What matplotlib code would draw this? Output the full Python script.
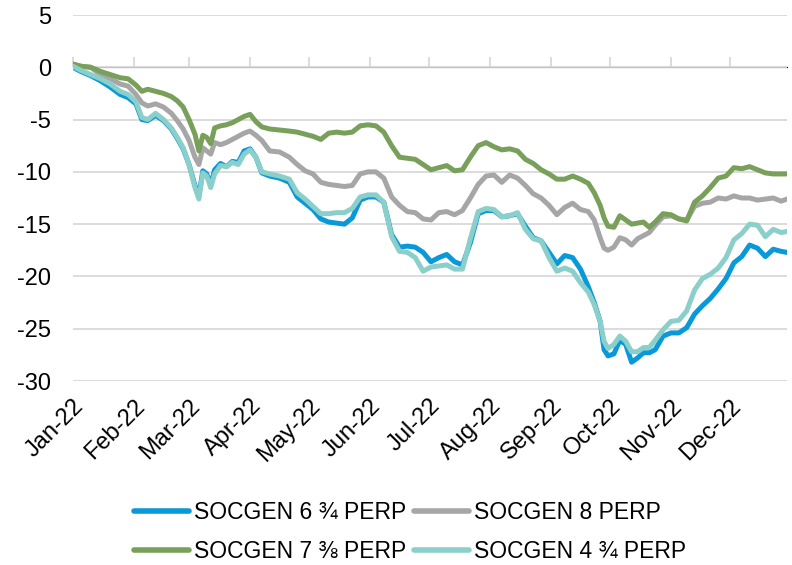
import matplotlib
matplotlib.use("Agg")
import matplotlib.pyplot as plt
import matplotlib.dates as mdates
import pandas as pd

plt.rcParams['font.family'] = ['Liberation Sans', 'DejaVu Sans']

dates = pd.to_datetime([
    "2022-01-01", "2022-01-05", "2022-01-10", "2022-01-15", "2022-01-20", "2022-01-25", "2022-01-29",
    "2022-02-02", "2022-02-05", "2022-02-08", "2022-02-12", "2022-02-16", "2022-02-20", "2022-02-23", "2022-02-26",
    "2022-03-01", "2022-03-04", "2022-03-06", "2022-03-08", "2022-03-10", "2022-03-12", "2022-03-14", "2022-03-17",
    "2022-03-20", "2022-03-23", "2022-03-26", "2022-03-29",
    "2022-04-01", "2022-04-04", "2022-04-07", "2022-04-11", "2022-04-16", "2022-04-21", "2022-04-25", "2022-04-29",
    "2022-05-03", "2022-05-07", "2022-05-11", "2022-05-15", "2022-05-19", "2022-05-23", "2022-05-27", "2022-05-31",
    "2022-06-04", "2022-06-08", "2022-06-12", "2022-06-16", "2022-06-20", "2022-06-24", "2022-06-28",
    "2022-07-02", "2022-07-06", "2022-07-10", "2022-07-14", "2022-07-18", "2022-07-22", "2022-07-26", "2022-07-30",
    "2022-08-03", "2022-08-07", "2022-08-11", "2022-08-15", "2022-08-19", "2022-08-23", "2022-08-27", "2022-08-31",
    "2022-09-04", "2022-09-08", "2022-09-12", "2022-09-16", "2022-09-20", "2022-09-23", "2022-09-26", "2022-09-28",
    "2022-09-30",
    "2022-10-03", "2022-10-06", "2022-10-09", "2022-10-12", "2022-10-15", "2022-10-18", "2022-10-21", "2022-10-24",
    "2022-10-28",
    "2022-11-01", "2022-11-05", "2022-11-09", "2022-11-13", "2022-11-17", "2022-11-21", "2022-11-25", "2022-11-29",
    "2022-12-03", "2022-12-07", "2022-12-11", "2022-12-15", "2022-12-19", "2022-12-23", "2022-12-27", "2022-12-30",
])

socgen_6_75 = [
    0.0, -0.4, -0.8, -1.3, -1.9, -2.6, -2.9, -3.5, -5.0, -5.1,
    -4.6, -5.1, -5.9, -6.8, -7.8, -9.3, -11.3, -12.3, -9.9, -10.2,
    -11.3, -9.8, -9.2, -9.5, -9.0, -9.1, -8.0, -7.8, -8.6, -10.1,
    -10.4, -10.6, -11.0, -12.4, -13.0, -13.6, -14.5, -14.8, -14.9, -15.0,
    -14.4, -12.7, -12.4, -12.4, -12.9, -16.0, -17.2, -17.1, -17.2, -17.7,
    -18.6, -18.2, -17.9, -18.6, -18.9, -16.8, -14.0, -13.7, -13.7, -14.3,
    -14.2, -14.0, -15.2, -16.3, -16.6, -17.7, -18.8, -18.0, -18.2, -19.3,
    -21.0, -22.5, -24.3, -27.0, -27.6, -27.4, -26.1, -26.5, -28.2, -27.8,
    -27.3, -27.3, -27.0, -25.7, -25.4, -25.4, -24.9, -23.6, -22.8, -22.1,
    -21.2, -20.2, -18.7, -18.1, -17.0, -17.3, -18.1, -17.4, -17.6, -17.7,
]

socgen_8 = [
    0.3, 0.1, 0.0, -0.7, -1.1, -1.6, -1.8, -2.6, -3.4, -3.7,
    -3.5, -3.8, -4.4, -5.1, -5.9, -7.0, -8.6, -9.3, -7.7, -8.0,
    -8.3, -7.2, -7.4, -7.2, -6.9, -6.6, -6.3, -6.1, -6.5, -7.0,
    -8.0, -8.1, -8.6, -9.3, -9.9, -10.2, -11.0, -11.2, -11.3, -11.4,
    -11.3, -10.2, -10.0, -10.0, -10.6, -12.4, -13.2, -13.8, -13.9, -14.5,
    -14.6, -13.9, -13.8, -14.1, -13.7, -12.5, -11.2, -10.4, -10.3, -11.0,
    -10.3, -10.6, -11.3, -12.1, -12.5, -13.2, -14.1, -13.4, -13.0, -13.6,
    -13.8, -14.6, -16.3, -17.3, -17.5, -17.2, -16.3, -16.5, -17.0, -16.4,
    -16.1, -15.8, -15.1, -14.3, -14.2, -14.5, -14.6, -13.3, -13.0, -12.9,
    -12.5, -12.6, -12.3, -12.5, -12.5, -12.7, -12.6, -12.5, -12.8, -12.6,
]

socgen_7_375 = [
    0.3, 0.1, 0.0, -0.4, -0.7, -1.0, -1.1, -1.7, -2.3, -2.1,
    -2.3, -2.5, -2.8, -3.2, -3.8, -5.0, -6.4, -8.0, -6.5, -6.7,
    -7.3, -5.8, -5.6, -5.5, -5.3, -5.0, -4.7, -4.5, -5.2, -5.7,
    -5.9, -6.0, -6.1, -6.2, -6.4, -6.6, -6.9, -6.3, -6.2, -6.3,
    -6.2, -5.6, -5.5, -5.6, -6.2, -7.5, -8.6, -8.7, -8.8, -9.3,
    -9.8, -9.6, -9.4, -9.9, -9.8, -8.6, -7.5, -7.2, -7.6, -7.9,
    -7.8, -8.0, -8.8, -9.2, -9.8, -10.2, -10.7, -10.7, -10.4, -10.7,
    -11.1, -12.0, -13.2, -14.4, -15.2, -15.3, -14.2, -14.6, -15.0, -14.9,
    -14.8, -15.3, -14.8, -14.0, -14.1, -14.5, -14.7, -12.9, -12.3, -11.5,
    -10.6, -10.4, -9.6, -9.7, -9.5, -9.8, -10.1, -10.2, -10.2, -10.2,
]

socgen_4_75 = [
    0.1, -0.3, -0.7, -1.1, -1.6, -2.3, -2.6, -3.3, -4.8, -5.0,
    -4.4, -5.0, -5.8, -6.7, -7.7, -9.3, -11.5, -12.6, -10.1, -10.4,
    -11.5, -10.2, -9.4, -9.5, -9.1, -9.3, -8.3, -7.9, -8.6, -10.0,
    -10.2, -10.4, -10.7, -12.0, -12.6, -13.3, -14.0, -14.0, -13.9, -13.9,
    -13.5, -12.4, -12.2, -12.2, -12.9, -16.2, -17.6, -17.7, -18.2, -19.5,
    -19.1, -19.0, -18.9, -19.3, -19.3, -16.4, -13.8, -13.5, -13.6, -14.3,
    -14.2, -13.9, -15.5, -16.4, -16.6, -18.2, -19.5, -19.2, -19.5, -20.6,
    -21.5, -22.7, -24.3, -26.2, -26.9, -26.5, -25.7, -26.2, -27.2, -27.2,
    -26.8, -26.8, -26.1, -25.1, -24.3, -24.2, -23.3, -21.3, -20.2, -19.8,
    -19.2, -18.2, -16.5, -15.9, -15.0, -15.1, -16.2, -15.5, -15.8, -15.7,
]

series_labels = ["SOCGEN 6 ¾ PERP", "SOCGEN 8 PERP", "SOCGEN 7 ⅜ PERP", "SOCGEN 4 ¾ PERP"]
series_colors = ["#0A99D8", "#A6A6A6", "#79A05A", "#8BCFCB"]
y_ticks = [5, 0, -5, -10, -15, -20, -25, -30]

fig = plt.figure(figsize=(7.92, 5.65), dpi=100)
ax = fig.add_axes([73 / 792, 1 - 381 / 565, (787 - 73) / 792, (381 - 15) / 565])

grid_color = "#D9D9D9"
ax.set_ylim(-30, 5)
ax.set_yticks(y_ticks)
ax.set_yticklabels([str(v) for v in y_ticks])
ax.yaxis.grid(True, color=grid_color, linewidth=1.3)
ax.set_axisbelow(True)
for s in ax.spines.values():
    s.set_visible(False)

handles = []
for vals, lab, col in zip([socgen_6_75, socgen_8, socgen_7_375, socgen_4_75], series_labels, series_colors):
    h, = ax.plot(dates, vals, color=col, linewidth=3.6, label=lab, solid_capstyle="round", solid_joinstyle="round")
    handles.append(h)

ax.set_xlim(pd.Timestamp("2022-01-01"), pd.Timestamp("2022-12-30"))
month_ticks = pd.date_range("2022-01-01", "2022-12-01", freq="MS")
ax.set_xticks(month_ticks)
ax.xaxis.set_major_formatter(mdates.DateFormatter("%b-%y"))
ax.tick_params(axis="x", length=0, labelsize=17, pad=10)
ax.tick_params(axis="y", length=0, labelsize=17, pad=16)
for lbl in ax.get_xticklabels():
    lbl.set_rotation(45)
    lbl.set_ha("right")
    lbl.set_va("top")
    lbl.set_rotation_mode("anchor")

# axis line at y = 0 with month tick marks
sec = ax.secondary_xaxis(30 / 35)
sec.set_xticks(month_ticks)
sec.set_xticklabels([])
sec.tick_params(axis="x", direction="out", length=7, width=1.3, color=grid_color)
sec.spines["bottom"].set_color(grid_color)
sec.spines["bottom"].set_linewidth(1.3)

order = [0, 2, 1, 3]
leg = fig.legend([handles[i] for i in order], [series_labels[i] for i in order],
                 loc="center", bbox_to_anchor=(410 / 792, 1 - 532 / 565), ncol=2, frameon=False,
                 fontsize=16.5, handlelength=2.4, handletextpad=0.2, columnspacing=0.35,
                 labelspacing=0.7)
for line in leg.get_lines():
    line.set_linewidth(4)

fig.savefig("out.png", dpi=100)
